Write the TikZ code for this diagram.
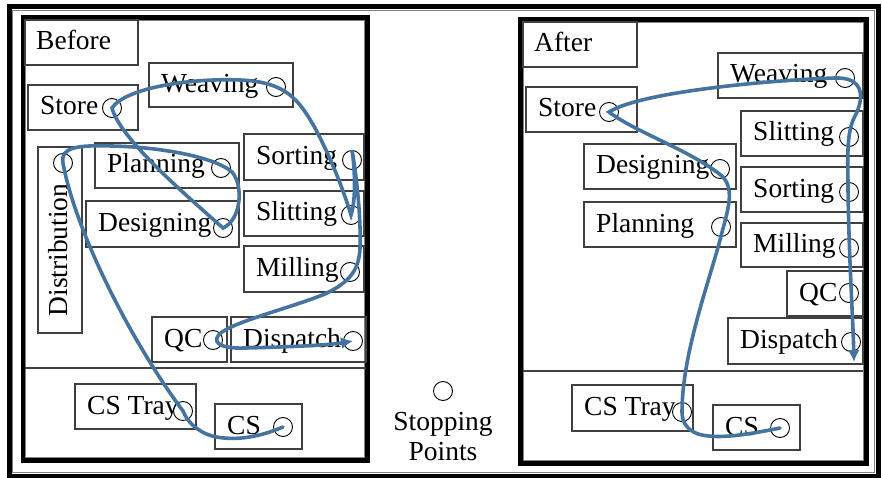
\documentclass[tikz,border=0pt]{standalone}
\usepackage{fontspec}
\setmainfont{Liberation Serif}
\usetikzlibrary{arrows.meta}

\definecolor{flowblue}{RGB}{70,116,160}
\tikzset{
  frameline/.style={line width=5pt},
  frameedge/.style={line width=0.8pt, gray},
  boxline/.style={line width=1.3pt, black!75},
  boxtext/.style={anchor=west, inner sep=0pt, text height=19pt, text depth=4pt,
    font=\fontsize{27.5}{30}\selectfont},
  legendtext/.style={inner sep=0pt, align=center, font=\fontsize{27.5}{30}\selectfont},
  stop/.style={draw, circle, line width=0.9pt, minimum size=19pt, inner sep=0pt},
  flow/.style={draw=flowblue, line width=3.6pt, line cap=round,
    -{Latex[length=12pt,width=12pt]}}
}
\newcommand\station[8]{
  \draw[boxline] (#2,#3) rectangle (#4,#5);
  \node[boxtext] (#1-lbl) at (#2+12,{(#3+#5)/2}) {#6};
  \node[stop] (#1) at (#7,#8) {};
}
\newcommand\titlebox[6]{
  \draw[boxline] (#2,#3) rectangle (#4,#5);
  \node[boxtext] (#1) at (#2+11,{(#3+#5)/2}) {#6};
}

\begin{document}
\begin{tikzpicture}[x=1pt, y=-1pt]
  \useasboundingbox (0,0) rectangle (882,478);
  \draw[frameline] (9,6.5) rectangle (878,476);
  \draw[frameedge] (12,10) rectangle (874.5,472.5);

  \draw[frameline] (23,17.5) rectangle (367.5,460.5);
  \draw[frameedge] (25.7,20.3) rectangle (364.8,457.8);
  \draw[boxline] (25,368) -- (366,368);
  \titlebox{before}{25}{20}{138}{65}{Before}
  \station{bStore}{28}{85}{138}{130}{Store}{112}{108}
  \station{bWeave}{149}{63}{293}{107}{Weaving}{276}{87}
  \station{bSort}{244}{134}{364}{180}{Sorting}{352}{160}
  \station{bSlit}{244}{191}{364}{236}{Slitting}{351}{215}
  \station{bPlan}{95}{143}{239}{188}{Planning}{221}{168}
  \station{bDes}{86}{201}{239}{247}{Designing}{223}{228}
  \station{bMill}{244}{246}{364}{292}{Milling}{350}{272}
  \station{bQC}{152}{317}{227}{362}{QC}{213}{340}
  \station{bDisp}{231}{317}{366}{362}{Dispatch}{353}{341}
  \station{bTray}{75}{384}{196}{429}{CS Tray}{183}{411}
  \station{bCS}{215}{404}{302}{449}{CS}{283}{427}
  \draw[boxline] (38,147) rectangle (82,333);
  \node[boxtext, anchor=center, rotate=90] (bDist-lbl) at (60,250) {Distribution};
  \node[stop] (bDist) at (63,163) {};

  \draw[flow] (bCS.center) .. controls (262,436) and (236,442) .. (212,436)
    .. controls (196,431) and (187,421) .. (bTray.center)
    .. controls (130,340) and (75,230) .. (bDist.center)
    .. controls (60,147) and (78,145) .. (112,146)
    .. controls (160,147) and (215,157) .. (232,172)
    .. controls (244,186) and (241,220) .. (bDes.center)
    .. controls (180,190) and (120,138) .. (bStore.center)
    .. controls (125,88) and (190,78) .. (240,80)
    .. controls (285,82) and (298,98) .. (315,128)
    .. controls (333,162) and (345,195) .. (bSlit.center)
    .. controls (356,200) and (355,170) .. (bSort.north)
    .. controls (358,185) and (361,225) .. (360,248)
    .. controls (359,270) and (350,282) .. (325,294)
    .. controls (290,308) and (240,320) .. (222,332)
    .. controls (210,341) and (218,349) .. (245,348)
    .. controls (290,347) and (330,345) .. (bDisp.center);

  \node[stop] (legend) at (443,391) {};
  \node[legendtext, anchor=north] (legend-lbl) at (443,412) {Stopping\\Points};

  \draw[frameline] (520.5,19.5) rectangle (866,463);
  \draw[frameedge] (523.2,22.3) rectangle (863.3,460.3);
  \draw[boxline] (523,371) -- (863,371);
  \titlebox{after}{523}{22}{637}{67}{After}
  \station{aStore}{526}{87}{637}{132}{Store}{609}{112}
  \station{aWeave}{718}{53}{863}{98}{Weaving}{845}{78}
  \station{aSlit}{741}{111}{863}{156}{Slitting}{849}{137}
  \station{aDes}{584}{144}{736}{189}{Designing}{720}{169}
  \station{aSort}{741}{167}{863}{212}{Sorting}{849}{192}
  \station{aPlan}{584}{202}{736}{247}{Planning}{721}{227}
  \station{aMill}{741}{223}{863}{267}{Milling}{849}{248}
  \station{aQC}{787}{271}{863}{316}{QC}{849}{293}
  \station{aDisp}{728}{318}{863}{364}{Dispatch}{851}{342}
  \station{aTray}{572}{385}{693}{431}{CS Tray}{682}{412}
  \station{aCS}{713}{405}{800}{450}{CS}{780}{428}
  \coordinate (aEnd) at (854,362);

  \draw[flow] (aCS.center) .. controls (750,434) and (718,440) .. (698,434)
    .. controls (685,429) and (682,420) .. (aTray.center)
    .. controls (682,355) and (708,285) .. (720,240)
    .. controls (727,212) and (736,190) .. (722,176)
    .. controls (690,150) and (635,132) .. (aStore.center)
    .. controls (640,92) and (770,80) .. (835,78)
    .. controls (866,77) and (864,100) .. (854,118)
    .. controls (846,135) and (848,160) .. (848,190)
    .. controls (849,260) and (853,320) .. (aEnd);
\end{tikzpicture}
\end{document}
